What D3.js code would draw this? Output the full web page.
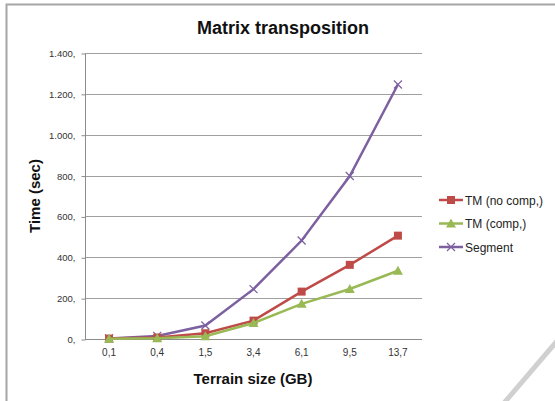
<!DOCTYPE html>
<html><head><meta charset="utf-8">
<script src="https://cdn.jsdelivr.net/npm/d3@7"></script>
<style>body{margin:0;background:#fff}svg{display:block}</style>
</head><body>
<script>
const categories = ["0,1","0,4","1,5","3,4","6,1","9,5","13,7"];
const tmNoComp = [2, 7, 28, 90, 232, 363, 506];
const tmComp = [1, 4, 14, 78, 172, 245, 334];
const segment = [3, 15, 66, 244, 482, 798, 1246];
const yTicks = [0,200,400,600,800,1000,1200,1400];
const yTickLabels = ["0,","200,","400,","600,","800,","1.000,","1.200,","1.400,"];
const seriesNames = ["TM (no comp,)","TM (comp,)","Segment"];

const W=555,H=401;
const svg=d3.select("body").append("svg").attr("width",W).attr("height",H);
const font="'Liberation Sans', Arial, sans-serif";

// page frame
svg.append("path").attr("d","M6.5,401 V4.5 H555").attr("fill","none").attr("stroke","#a6a6a6").attr("stroke-width",2);
svg.append("line").attr("x1",557).attr("y1",341).attr("x2",504).attr("y2",403).attr("stroke","#d0d0d0").attr("stroke-width",5);

const x=d3.scaleBand().domain(categories).range([85,422]);
const y=d3.scaleLinear().domain([0,1400]).range([339,53]);

// gridlines
svg.append("g").selectAll("line").data(yTicks.slice(1)).join("line")
  .attr("x1",85).attr("x2",422).attr("y1",d=>Math.round(y(d))+0.5).attr("y2",d=>Math.round(y(d))+0.5)
  .attr("stroke","#a0a0a0").attr("stroke-width",1);

// y axis
const yAxis=d3.axisLeft(y).tickValues(yTicks).tickSize(4).tickFormat((d,i)=>yTickLabels[i]);
const gy=svg.append("g").attr("transform","translate(85.5,0.5)").call(yAxis);
gy.select(".domain").attr("stroke","#8c8c8c").attr("d","M0,"+(53)+"V"+339);
gy.selectAll(".tick line").attr("stroke","#8c8c8c");
gy.selectAll("text").attr("x",-10).attr("font-family",font).attr("font-size",9.5).attr("fill","#333");

// x axis
const xAxis=d3.axisBottom(x).tickSize(0).tickPadding(9);
const gx=svg.append("g").attr("transform","translate(0,339.5)").call(xAxis);
gx.select(".domain").attr("stroke","#8c8c8c").attr("d","M85,0H422");
gx.selectAll("text").attr("font-family",font).attr("font-size",10).attr("fill","#333");

const colors=["#be4b48","#98b954","#7d60a0"];
const data=[tmNoComp,tmComp,segment];
const line=d3.line().x((d,i)=>x(categories[i])+x.bandwidth()/2).y(d=>y(d));

function marker(g,type,cx,cy,c){
  if(type===0) g.append("rect").attr("x",cx-4).attr("y",cy-4).attr("width",8).attr("height",8).attr("fill",c);
  else if(type===1) g.append("path").attr("d",`M${cx},${cy-5}L${cx+5},${cy+4}L${cx-5},${cy+4}Z`).attr("fill",c);
  else g.append("path").attr("d",`M${cx-4},${cy-4}L${cx+4},${cy+4}M${cx+4},${cy-4}L${cx-4},${cy+4}`).attr("stroke",c).attr("stroke-width",1.2).attr("fill","none");
}

[2,0,1].forEach(s=>{
  const g=svg.append("g");
  g.append("path").datum(data[s]).attr("d",line).attr("fill","none").attr("stroke",colors[s]).attr("stroke-width",2.5);
  data[s].forEach((v,i)=>marker(g,s,x(categories[i])+x.bandwidth()/2,y(v),colors[s]));
});

// legend
const lg=svg.append("g");
seriesNames.forEach((n,i)=>{
  const ly=200+i*23.5;
  lg.append("line").attr("x1",439).attr("x2",463).attr("y1",ly).attr("y2",ly).attr("stroke",colors[i]).attr("stroke-width",2.5);
  marker(lg,i,451,ly,colors[i]);
  lg.append("text").attr("x",465).attr("y",ly+4.5).text(n).attr("font-family",font).attr("font-size",12).attr("fill","#222");
});

// titles
svg.append("text").attr("x",283).attr("y",34).attr("text-anchor","middle").text("Matrix transposition")
  .attr("font-family",font).attr("font-weight","bold").attr("font-size",18).attr("fill","#111");
svg.append("text").attr("transform","translate(40,196) rotate(-90)").attr("text-anchor","middle").text("Time (sec)")
  .attr("font-family",font).attr("font-weight","bold").attr("font-size",15).attr("fill","#111");
svg.append("text").attr("x",253).attr("y",384).attr("text-anchor","middle").text("Terrain size (GB)")
  .attr("font-family",font).attr("font-weight","bold").attr("font-size",15).attr("fill","#111");
</script>
</body></html>
